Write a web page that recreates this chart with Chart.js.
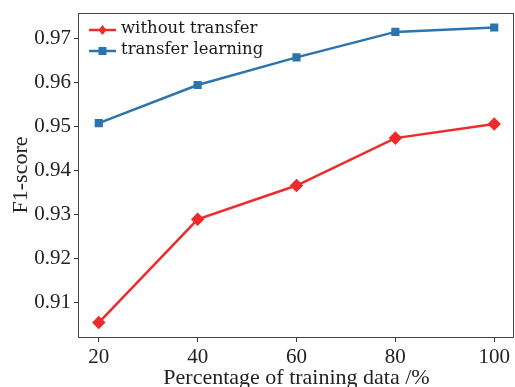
<!DOCTYPE html>
<html><head><meta charset="utf-8">
<script src="https://cdn.jsdelivr.net/npm/chart.js"></script>
<style>html,body{margin:0;padding:0;background:#fff}#c{display:block}</style>
</head><body>
<canvas id="c" width="515" height="387"></canvas>
<script>
const trainingPct = [20, 40, 60, 80, 100];
const withoutTransfer = [0.9054, 0.9289, 0.9366, 0.9474, 0.9506];
const transferLearning = [0.9508, 0.9595, 0.9658, 0.9716, 0.9726];
const xTicks = [20, 40, 60, 80, 100];
const yTicks = [0.91, 0.92, 0.93, 0.94, 0.95, 0.96, 0.97];
const seriesNames = ['without transfer', 'transfer learning'];

const RED = '#ee2b2b', BLUE = '#2b74ad';
const tickFont = {family: 'Liberation Serif', size: 21};
const titleFont = {family: 'Liberation Serif', size: 22};

const frame = {
  id: 'frame',
  afterDraw(chart) {
    const {ctx, chartArea: a} = chart;
    ctx.save();
    ctx.strokeStyle = '#444';
    ctx.lineWidth = 1;
    ctx.strokeRect(Math.round(a.left) - 0.5, Math.round(a.top) + 0.5, Math.round(a.right - a.left), Math.round(a.bottom - a.top));
    ctx.restore();
  }
};

const legendBox = {
  id: 'legendBox',
  afterDraw(chart) {
    const {ctx, chartArea: a} = chart;
    const items = chart.data.datasets;
    ctx.save();
    items.forEach((ds, i) => {
      const y = a.top + 17 + i * 21;
      const x0 = a.left + 10, x1 = a.left + 37;
      ctx.strokeStyle = ds.borderColor;
      ctx.lineWidth = 2.5;
      ctx.beginPath(); ctx.moveTo(x0, y); ctx.lineTo(x1, y); ctx.stroke();
      ctx.fillStyle = ds.borderColor;
      const cx = (x0 + x1) / 2;
      ctx.beginPath();
      const r = ds.pointRadius;
      if (ds.pointStyle === 'rectRot') {
        ctx.moveTo(cx, y - r); ctx.lineTo(cx + r * 0.8, y); ctx.lineTo(cx, y + r); ctx.lineTo(cx - r * 0.8, y);
        ctx.closePath();
      } else {
        ctx.rect(cx - r, y - r, 2 * r, 2 * r);
      }
      ctx.fill();
      ctx.fillStyle = '#1a1a1a';
      ctx.font = '16.5px "DejaVu Serif"';
      ctx.textBaseline = 'middle';
      ctx.textAlign = 'left';
      ctx.fillText(ds.label, a.left + 42, y - 1);
    });
    ctx.restore();
  }
};

new Chart(document.getElementById('c'), {
  type: 'line',
  data: {
    datasets: [
      {label: seriesNames[0], data: trainingPct.map((x, i) => ({x, y: withoutTransfer[i]})),
       borderColor: RED, backgroundColor: RED, borderWidth: 2.5, pointStyle: 'rectRot', pointRadius: 5, pointHoverRadius: 5, tension: 0},
      {label: seriesNames[1], data: trainingPct.map((x, i) => ({x, y: transferLearning[i]})),
       borderColor: BLUE, backgroundColor: BLUE, borderWidth: 2.5, pointStyle: 'rect', pointRadius: 4, pointHoverRadius: 4, tension: 0}
    ]
  },
  options: {
    responsive: false, animation: false, devicePixelRatio: 1,
    layout: {autoPadding: false, padding: {top: 13, right: 1, left: 0, bottom: 0}},
    plugins: {legend: {display: false}, tooltip: {enabled: false}},
    scales: {
      x: {
        type: 'linear', min: 16, max: 104,
        afterBuildTicks: s => { s.ticks = xTicks.map(v => ({value: v})); },
        afterFit: s => { s.height = 50; s.paddingLeft = 0; s.paddingRight = 0; },
        grid: {drawOnChartArea: false, drawTicks: true, tickLength: 5, color: '#333'},
        border: {display: false},
        ticks: {font: tickFont, color: '#222', padding: 3, maxRotation: 0, autoSkip: false},
        title: {display: true, text: 'Percentage of training data /%', font: titleFont, color: '#222', padding: {top: 0, bottom: -4}}
      },
      y: {
        type: 'linear', min: 0.9021, max: 0.9759,
        afterBuildTicks: s => { s.ticks = yTicks.map(v => ({value: v})); },
        afterFit: s => { s.width = 79; s.paddingTop = 0; s.paddingBottom = 0; },
        grid: {drawOnChartArea: false, drawTicks: true, tickLength: 5, color: '#333'},
        border: {display: false},
        ticks: {font: tickFont, color: '#222', padding: 3, autoSkip: false, callback: v => v.toFixed(2)},
        title: {display: true, text: 'F1-score', font: titleFont, color: '#222', padding: {top: 8, bottom: 0}}
      }
    }
  },
  plugins: [frame, legendBox]
});
</script>
</body></html>
